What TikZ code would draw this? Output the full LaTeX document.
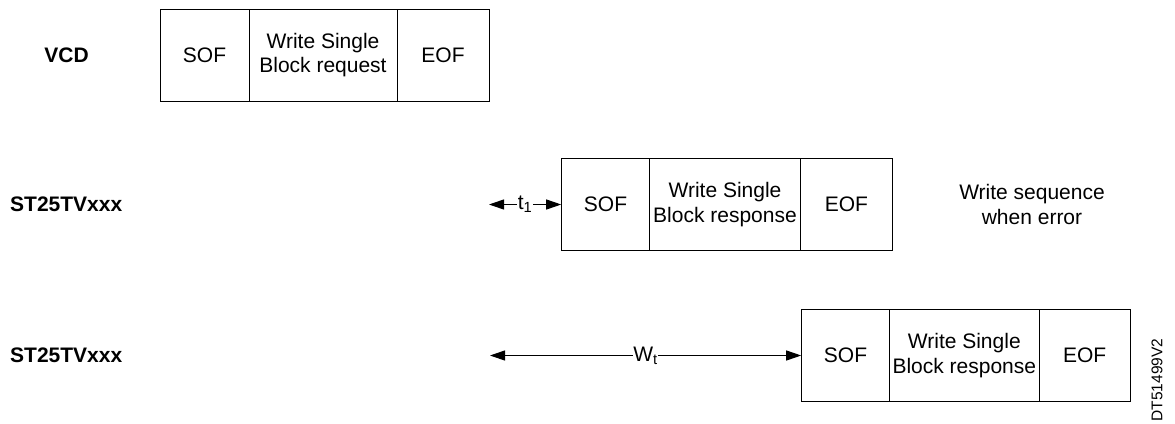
\documentclass[tikz,border=0pt]{standalone}
\usepackage{fontspec}
\setmainfont{Liberation Sans}
\usetikzlibrary{arrows.meta}
\begin{document}
\begin{tikzpicture}[x=1pt,y=-1pt,
  fbox/.style={draw=black, line width=1pt, inner sep=0pt, align=center,
    font=\fontsize{21}{24.5}\selectfont},
  lab/.style={inner sep=0pt, font=\fontsize{21}{24}\selectfont\bfseries},
  note/.style={inner sep=0pt, align=center, font=\fontsize{21}{25}\selectfont},
  arr/.style={line width=1pt, {Triangle[length=15pt,width=10pt]}-{Triangle[length=15pt,width=10pt]}},
  tlab/.style={fill=white, inner sep=0.5pt, font=\fontsize{21}{24}\selectfont}]
\useasboundingbox (0,0) rectangle (1175,423);
% labels
\node[lab] (lvcd) at (66.5,55) {VCD};
\node[lab, anchor=west] (lst1) at (10,204.5) {ST25TVxxx};
\node[lab, anchor=west] (lst2) at (10,355.5) {ST25TVxxx};
% row 1
\node[fbox, minimum width=89pt, minimum height=92pt] (vsof) at (204.5,55) {SOF};
\node[fbox, minimum width=148pt, minimum height=92pt] (vmid) at (323,55) {Write Single\\Block request};
\node[fbox, minimum width=92pt, minimum height=92pt] (veof) at (443,55) {EOF};
% row 2
\node[fbox, minimum width=87.6pt, minimum height=92.4pt] (asof) at (605.5,204.5) {SOF};
\node[fbox, minimum width=151.4pt, minimum height=92.4pt] (amid) at (725,204.5) {Write Single\\Block response};
\node[fbox, minimum width=91.3pt, minimum height=92.4pt] (aeof) at (846.35,204.5) {EOF};
\node[note] (err) at (1032,204.5) {Write sequence\\when error};
% row 3
\node[fbox, minimum width=87.6pt, minimum height=92.4pt] (bsof) at (845.5,355.5) {SOF};
\node[fbox, minimum width=150pt, minimum height=92.4pt] (bmid) at (964.3,355.5) {Write Single\\Block response};
\node[fbox, minimum width=90.7pt, minimum height=92.4pt] (beof) at (1084.65,355.5) {EOF};
% arrows
\coordinate (t1l) at (489,204.5);
\coordinate (wtl) at (490,355.5);
\draw[arr] (t1l) -- node[tlab] {t\textsubscript{1}} (asof.west);
\draw[arr] (wtl) -- node[tlab] {W\textsubscript{t}} (bsof.west);
% reference
\node[rotate=90, inner sep=0pt, font=\fontsize{15.5}{18}\selectfont] (ref) at (1157,380) {DT51499V2};
\end{tikzpicture}
\end{document}
